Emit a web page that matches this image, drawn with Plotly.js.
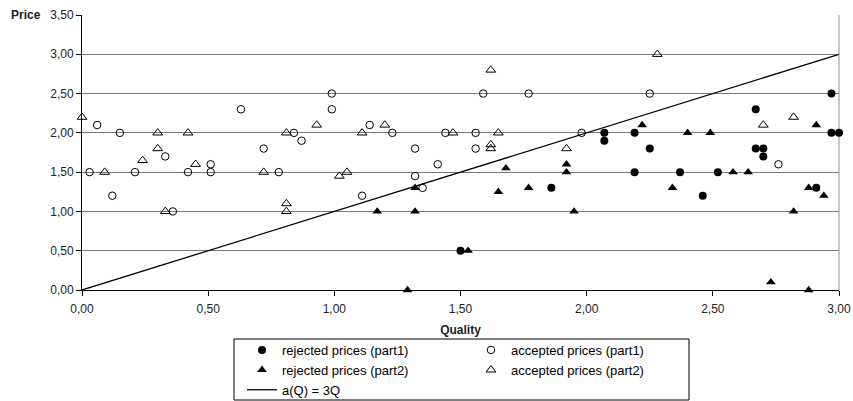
<!DOCTYPE html>
<html>
<head>
<meta charset="utf-8">
<script src="https://cdn.plot.ly/plotly-3.0.1.min.js"></script>
<style>html,body{margin:0;padding:0;background:#fff;}#chart{width:853px;height:401px;}</style>
</head>
<body>
<div id="chart"></div>
<script>
// rejected prices (part1) - filled circles
const rej1Q = [1.50, 1.86, 2.07, 2.07, 2.19, 2.19, 2.25, 2.37, 2.46, 2.52, 2.67, 2.67, 2.70, 2.70, 2.91, 2.97, 2.97, 3.00];
const rej1P = [0.50, 1.30, 2.00, 1.90, 2.00, 1.50, 1.80, 1.50, 1.20, 1.50, 2.30, 1.80, 1.80, 1.70, 1.30, 2.50, 2.00, 2.00];

// accepted prices (part1) - open circles
const acc1Q = [0.03, 0.06, 0.12, 0.15, 0.21, 0.33, 0.36, 0.42, 0.51, 0.51, 0.63, 0.72, 0.78, 0.84, 0.87, 0.99, 0.99, 1.11, 1.14, 1.23, 1.32, 1.32, 1.35, 1.41, 1.44, 1.56, 1.56, 1.59, 1.77, 1.98, 2.25, 2.76];
const acc1P = [1.50, 2.10, 1.20, 2.00, 1.50, 1.70, 1.00, 1.50, 1.60, 1.50, 2.30, 1.80, 1.50, 2.00, 1.90, 2.50, 2.30, 1.20, 2.10, 2.00, 1.80, 1.45, 1.30, 1.60, 2.00, 2.00, 1.80, 2.50, 2.50, 2.00, 2.50, 1.60];

// rejected prices (part2) - filled triangles
const rej2Q = [1.17, 1.29, 1.32, 1.32, 1.53, 1.65, 1.68, 1.77, 1.92, 1.92, 1.95, 2.22, 2.34, 2.40, 2.49, 2.58, 2.64, 2.73, 2.82, 2.88, 2.88, 2.91, 2.94];
const rej2P = [1.00, 0.00, 1.30, 1.00, 0.50, 1.25, 1.55, 1.30, 1.60, 1.50, 1.00, 2.10, 1.30, 2.00, 2.00, 1.50, 1.50, 0.10, 1.00, 1.30, 0.00, 2.10, 1.20];

// accepted prices (part2) - open triangles
const acc2Q = [0.00, 0.09, 0.24, 0.30, 0.30, 0.33, 0.42, 0.45, 0.72, 0.81, 0.81, 0.81, 0.93, 1.02, 1.05, 1.11, 1.20, 1.47, 1.62, 1.62, 1.62, 1.65, 1.92, 2.28, 2.70, 2.82];
const acc2P = [2.20, 1.50, 1.65, 2.00, 1.80, 1.00, 2.00, 1.60, 1.50, 2.00, 1.10, 1.00, 2.10, 1.45, 1.50, 2.00, 2.10, 2.00, 2.80, 1.85, 1.80, 2.00, 1.80, 3.00, 2.10, 2.20];

// a(Q) = 3Q line
const lineQ = [0, 3];
const lineA = [0, 3];

const names = ['rejected prices (part1)', 'accepted prices (part1)', 'rejected prices (part2)', 'accepted prices (part2)', 'a(Q) = 3Q'];
const xTitle = 'Quality';
const yTitle = 'Price';

const FONT = 'Liberation Sans, Arial, sans-serif';

const traces = [
  {x: rej1Q, y: rej1P, name: names[0], type: 'scatter', mode: 'markers', legend: 'legend',
   marker: {symbol: 'circle', size: 8, color: '#000'}, cliponaxis: false},
  {x: rej2Q, y: rej2P, name: names[2], type: 'scatter', mode: 'markers', legend: 'legend',
   marker: {symbol: 'triangle-up', size: 8.5, color: '#000'}, cliponaxis: false},
  {x: lineQ, y: lineA, name: names[4], type: 'scatter', mode: 'lines', legend: 'legend',
   line: {color: '#000', width: 1.3}, cliponaxis: false},
  {x: acc1Q, y: acc1P, name: names[1], type: 'scatter', mode: 'markers', legend: 'legend2',
   marker: {symbol: 'circle-open', size: 7.5, color: '#000', line: {width: 1, color: '#000'}}, cliponaxis: false},
  {x: acc2Q, y: acc2P, name: names[3], type: 'scatter', mode: 'markers', legend: 'legend2',
   marker: {symbol: 'triangle-up-open', size: 8.5, color: '#000', line: {width: 1, color: '#000'}}, cliponaxis: false}
];

const L = 82, R = 14, T = 15, B = 111;
const W = 853, H = 401;
const pw = W - L - R, ph = H - T - B;
const px2x = p => (p - L) / pw;
const py2y = p => (H - B - p) / ph;

const legendCommon = {
  xanchor: 'left', yanchor: 'top', orientation: 'v',
  bgcolor: 'rgba(0,0,0,0)', borderwidth: 0,
  font: {family: FONT, size: 13, color: '#000'},
  tracegroupgap: 0, itemclick: false
};

const layout = {
  width: W, height: H,
  margin: {l: L, r: R, t: T, b: B, autoexpand: false},
  paper_bgcolor: '#fff', plot_bgcolor: '#fff',
  separators: ',.',
  showlegend: true,
  font: {family: FONT, size: 12, color: '#222'},
  xaxis: {
    range: [0, 3], tick0: 0, dtick: 0.5, tickformat: '.2f',
    ticks: 'outside', ticklen: 5, tickcolor: '#000', tickwidth: 1,
    ticklabelstandoff: 3,
    showline: true, linecolor: '#000', linewidth: 1,
    showgrid: false, zeroline: false,
    tickfont: {family: FONT, size: 12, color: '#222'},
    title: {text: xTitle, font: {family: FONT, size: 12, color: '#222', weight: 'bold'}, standoff: 10}
  },
  yaxis: {
    range: [0, 3.5], tick0: 0, dtick: 0.5, tickformat: '.2f',
    ticks: 'outside', ticklen: 5, tickcolor: '#000', tickwidth: 1,
    showline: true, linecolor: '#000', linewidth: 1,
    showgrid: true, gridcolor: '#7a7a7a', gridwidth: 1, zeroline: false,
    tickfont: {family: FONT, size: 12, color: '#222'}
  },
  legend: Object.assign({}, legendCommon, {x: px2x(242), y: py2y(335)}),
  legend2: Object.assign({}, legendCommon, {x: px2x(471), y: py2y(335)}),
  annotations: [
    {text: yTitle, xref: 'paper', yref: 'paper', x: px2x(43), y: 1, xanchor: 'right', yanchor: 'middle',
     showarrow: false, font: {family: FONT, size: 12, color: '#222', weight: 'bold'}}
  ],
  shapes: [
    {type: 'line', xref: 'paper', yref: 'paper', x0: 1, x1: 1, y0: 0, y1: 1, layer: 'below',
     line: {color: '#b5b5b5', width: 1.5}},
    {type: 'rect', xref: 'paper', yref: 'paper', x0: px2x(234), x1: px2x(689), y0: py2y(400), y1: py2y(339),
     line: {color: '#000', width: 1}, fillcolor: 'rgba(0,0,0,0)'}
  ]
};

Plotly.newPlot('chart', traces, layout, {displayModeBar: false, staticPlot: true});
</script>
</body>
</html>
